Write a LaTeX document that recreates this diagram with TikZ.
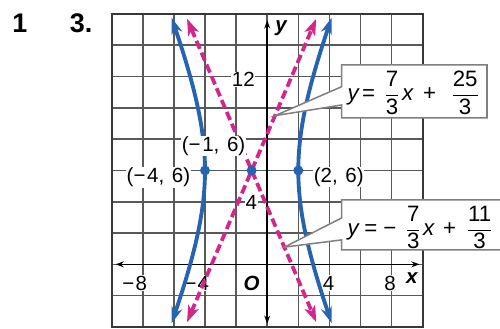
\documentclass[tikz,border=0pt]{standalone}
\usepackage{amsmath}
\usepackage{fontspec}
\setmainfont{Liberation Sans}
\usetikzlibrary{arrows.meta}
\definecolor{hblue}{RGB}{38,100,178}
\definecolor{hpink}{RGB}{212,38,138}
\begin{document}
\begin{tikzpicture}[x=0.4666cm,y=0.4695cm,
  gridline/.style={draw=black!65,line width=1.35pt},
  border/.style={draw=black!78,line width=1.8pt},
  axisline/.style={draw=black,line width=1.3pt,{Stealth[length=7pt,width=5pt]}-{Stealth[length=7pt,width=5pt]}},
  lbl/.style={font=\fontsize{17.5}{19}\selectfont,inner sep=0.5pt,fill=white},
  axlbl/.style={font=\fontsize{17.5}{19}\selectfont\bfseries\itshape,inner sep=0.5pt},
  hyp/.style={draw=hblue,line width=3.3pt,{Stealth[length=14pt,width=9.5pt]}-{Stealth[length=14pt,width=9.5pt]}},
  asym/.style={draw=hpink,line width=3.2pt,dash pattern=on 7.5pt off 3.5pt,{Stealth[length=14pt,width=9.5pt,inset=3.5pt]}-{Stealth[length=14pt,width=9.5pt,inset=3.5pt]}},
  dot/.style={circle,fill=hblue,inner sep=0pt,minimum size=8.5pt},
  callout/.style={fill=white,draw=black!50,line width=1.3pt},
  eqn/.style={font=\fontsize{19}{21}\selectfont,inner sep=0pt,anchor=west},
  head/.style={font=\fontsize{23}{26}\selectfont\bfseries,inner sep=0pt}
  ]
\useasboundingbox (-17.183,-4.128) rectangle (14.971,16.894);
% exercise numbers
\node[head] (n1) at (-15.9,15.42) {1};
\node[head] (n3) at (-11.97,15.42) {3.};
% grid
\foreach \i in {-8,-6,...,8} \draw[gridline] (\i,-4) -- (\i,16);
\foreach \j in {-2,0,...,14} \draw[gridline] (-10,\j) -- (10,\j);
\draw[border] (-10,-4) rectangle (10,16);
% axes
\coordinate (xl) at (-9.75,0);
\coordinate (xr) at (9.8,0);
\coordinate (yb) at (0,-3.8);
\coordinate (yt) at (0,15.6);
\draw[axisline] (xl) -- (xr);
\draw[axisline] (yb) -- (yt);
\node[axlbl] (ylab) at (0.9,15.1) {y};
\node[axlbl] (xlab) at (9.3,-0.9) {x};
% axis numbers
\node[lbl] (m8) at (-8.1,-1.2) {\llap{−\hspace{1pt}}8};
\node[lbl] (m4) at (-4.1,-1.2) {\llap{−\hspace{1pt}}4};
\node[axlbl,fill=white] (o) at (-1,-1.2) {O};
\node[lbl] (p4) at (3.95,-1.2) {4};
\node[lbl] (p8) at (7.9,-1.2) {8};
\node[lbl,anchor=east] (y12) at (-0.75,11.8) {12};
\node[lbl,anchor=east] (y4) at (-0.6,3.95) {4};
% asymptotes
\coordinate (a1s) at (-5.157,-3.7);
\coordinate (a1e) at (3.157,15.7);
\coordinate (a2s) at (-5.157,15.7);
\coordinate (a2e) at (3.157,-3.7);
\draw[asym] (a1s) -- (a1e);
\draw[asym] (a2s) -- (a2e);
% hyperbola
\draw[hyp] plot[domain=-1.135:1.135,samples=60,variable=\t] ({-1-3*cosh(\t)},{6+7*sinh(\t)});
\draw[hyp] plot[domain=-1.135:1.135,samples=60,variable=\t] ({-1+3*cosh(\t)},{6+7*sinh(\t)});
% points
\node[dot] (c) at (-1,6) {};
\node[dot] (v1) at (-4,6) {};
\node[dot] (v2) at (2,6) {};
\node[lbl,anchor=east] (lv1) at (-4.9,5.55) {(−\hspace{1.5pt}4,\hspace{6.5pt}6)};
\node[lbl,anchor=west] (lv2) at (2.95,5.6) {(2,\hspace{6.5pt}6)};
\node[lbl] (lc) at (-3.45,7.55) {(−\hspace{1.5pt}1,\hspace{6.5pt}6)};
% callout 1
\coordinate (t1) at (0.5,9.5);
\draw[callout] (4.79,12.75) -- (14.135,12.75) -- (14.135,9.355) -- (4.79,9.355) -- (4.79,10.185) -- (t1) -- (4.79,11.355) -- cycle;
\node[eqn] (e1) at (5.15,10.95) {\textit{y}\hspace{2pt}=\hspace{8pt}$\dfrac{\text{7}}{\text{3}}$\hspace{2pt}\textit{x}\hspace{8pt}+\hspace{13pt}$\dfrac{\text{25}}{\text{3}}$};
% callout 2
\coordinate (t2) at (1.1,1.1);
\draw[callout] (15.5,4.115) -- (4.79,4.115) -- (4.79,2.965) -- (t2) -- (4.79,1.56) -- (4.79,0.92) -- (15.5,0.92);
\node[eqn] (e2) at (5.15,2.35) {\textit{y}\hspace{4pt}=\hspace{5pt}−\hspace{8pt}$\dfrac{\text{7}}{\text{3}}$\hspace{2pt}\textit{x}\hspace{7pt}+\hspace{9pt}$\dfrac{\text{11}}{\text{3}}$};
\end{tikzpicture}
\end{document}
